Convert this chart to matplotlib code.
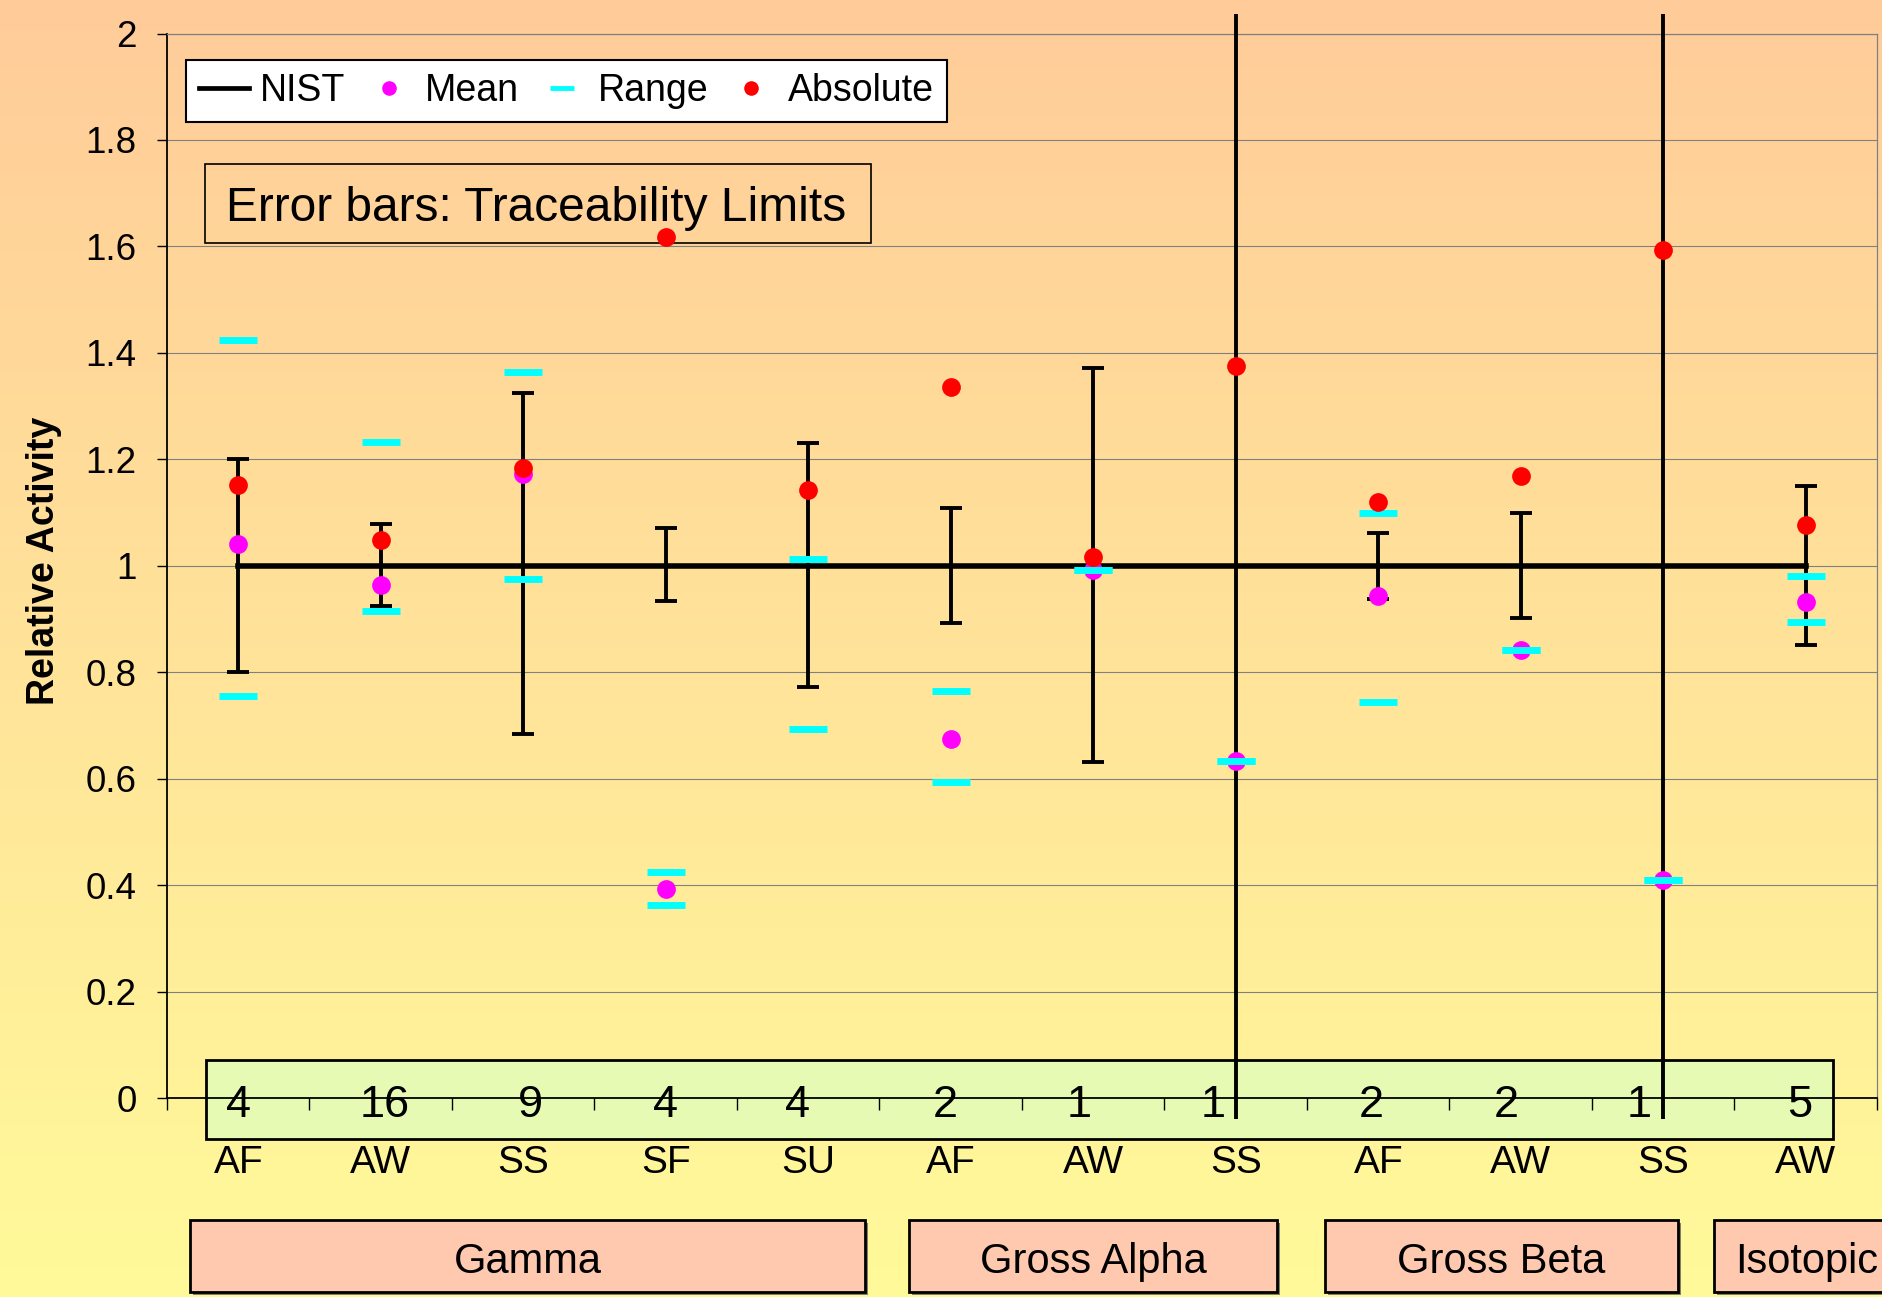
import numpy as np
import matplotlib
matplotlib.use("Agg")
import matplotlib.pyplot as plt
from matplotlib.patches import Rectangle
from matplotlib.lines import Line2D
from matplotlib.transforms import offset_copy

plt.rcParams['font.family'] = ['Liberation Sans', 'DejaVu Sans']

# data
categories = ['AF', 'AW', 'SS', 'SF', 'SU', 'AF', 'AW', 'SS', 'AF', 'AW', 'SS', 'AW']
counts = [4, 16, 9, 4, 4, 2, 1, 1, 2, 2, 1, 5]
groups = ['Gamma', 'Gross Alpha', 'Gross Beta', 'Isotopic']

nist = np.ones(12)
limit_low = np.array([0.80, 0.925, 0.683, 0.933, 0.773, 0.893, 0.631, -1.0, 0.937, 0.902, -1.0, 0.852])
limit_high = np.array([1.20, 1.078, 1.324, 1.071, 1.231, 1.109, 1.371, 3.0, 1.062, 1.100, 3.0, 1.150])
mean = [1.04, 0.963, 1.172, 0.392, np.nan, 0.674, 0.992, 0.634, 0.944, 0.841, 0.410, 0.931]
absolute = [1.152, 1.048, 1.184, 1.617, 1.143, 1.335, 1.017, 1.375, 1.120, 1.168, 1.594, 1.076]
range_hi = [1.425, 1.233, 1.364, 0.424, 1.012, 0.764, 0.992, 0.634, 1.099, 0.841, 0.410, 0.981]
range_lo = [0.755, 0.915, 0.976, 0.363, 0.694, 0.593, 0.992, 0.634, 0.744, 0.841, 0.410, 0.895]

# layout (pixels)
W, H = 1883, 1297
count_dx = [0, 4, 7, 0, -11, -5, -14, -23, -7, -14, -24, -6]
group_boxes = [(190, 675), (909, 368), (1325, 353), (1714, 186)]

fig = plt.figure(figsize=(W / 100, H / 100), dpi=100)

# background gradient + boxes drawn in pixel space
bg = fig.add_axes([0, 0, 1, 1], zorder=0)
bg.set_xlim(0, W)
bg.set_ylim(H, 0)
bg.axis('off')
top = np.array([255, 204, 153]) / 255
bot = np.array([255, 250, 153]) / 255
g = np.linspace(0, 1, 256)[:, None, None]
bg.imshow(top * (1 - g) + bot * g, extent=[0, W, H, 0], aspect='auto')

bg.add_patch(Rectangle((206, 1060), 1833 - 206, 79, fc='#E6FAB4', ec='black', lw=2))
bg.add_patch(Rectangle((205, 164), 666, 79, fc='none', ec='black', lw=1.2))
bg.text(536, 221, 'Error bars: Traceability Limits', fontsize=34.5, ha='center', va='baseline')
for (x0, w), name in zip(group_boxes, groups):
    bg.add_patch(Rectangle((x0 + 3, 1223), w, 72, fc='#7f7f6a', ec='none'))
    bg.add_patch(Rectangle((x0, 1220), w, 72, fc='#FFC9B0', ec='black', lw=2))
    bg.text(x0 + w / 2, 1273, name, fontsize=30, ha='center', va='baseline')

# main chart
ax = fig.add_axes([167 / W, 1 - 1098 / H, (1877 - 167) / W, (1098 - 33.5) / H], zorder=2)
ax.set_facecolor('none')
x = np.arange(12) + 0.5

eb = ax.errorbar(x, nist, yerr=[nist - limit_low, limit_high - nist], color='black',
                 lw=4, elinewidth=2.8, capsize=8, capthick=2.8, zorder=3)
clip = Rectangle((0, -0.04), 12, 2.076, transform=ax.transData)
for art in list(eb.lines[1]) + list(eb.lines[2]):
    art.set_clip_path(clip)

ax.plot(x, mean, 'o', color='#FF00FF', ms=13.5, mec='none', zorder=4)
ax.plot(x, range_hi, '_', color='#00FFFF', ms=27, mew=5, zorder=5)
ax.plot(x, range_lo, '_', color='#00FFFF', ms=27, mew=5, zorder=5)
ax.plot(x, absolute, 'o', color='#FF0000', ms=13.5, mec='none', zorder=6)

ax.set_xlim(0, 12)
ax.set_ylim(0, 2)
ax.set_yticks(np.arange(0, 2.01, 0.2))
ax.set_yticklabels(['%g' % round(v, 1) for v in np.arange(0, 2.01, 0.2)])
ax.set_xticks([])
ax.set_xticks(np.arange(13), minor=True)
ax.tick_params(axis='y', length=7, width=1, labelsize=26.5, pad=15, direction='out')
ax.tick_params(axis='x', which='minor', length=8.6, width=1, direction='out')
ax.yaxis.grid(True, color='#808080', lw=0.8)
ax.set_axisbelow(True)
for side in ['left', 'bottom']:
    ax.spines[side].set_color('black')
    ax.spines[side].set_linewidth(1.3)
for side in ['top', 'right']:
    ax.spines[side].set_color('#808080')
    ax.spines[side].set_linewidth(0.9)

for i in range(12):
    ax.text(x[i], 0, str(counts[i]), fontsize=32.5, ha='center', va='baseline', clip_on=False,
            transform=offset_copy(ax.transData, fig, x=count_dx[i], y=-19, units='dots'), zorder=7)
    ax.text(x[i], 0, categories[i], fontsize=28, ha='center', va='baseline', clip_on=False,
            transform=offset_copy(ax.transData, fig, x=0, y=-75, units='dots'))

fig.text(44 / W, 1 - 561 / H, 'Relative Activity', rotation=90, fontsize=27,
         fontweight='bold', ha='center', va='center')

handles = [Line2D([], [], color='black', lw=3.4),
           Line2D([], [], ls='none', marker='o', color='#FF00FF', ms=10.5, mec='none'),
           Line2D([], [], ls='none', marker='_', color='#00FFFF', ms=17, mew=3.5),
           Line2D([], [], ls='none', marker='o', color='#FF0000', ms=10.5, mec='none')]
leg = fig.legend(handles, ['NIST', 'Mean', 'Range', 'Absolute'], loc='upper left',
                 bbox_to_anchor=(186 / W, 1 - 60 / H), ncol=4, frameon=True, fancybox=False,
                 edgecolor='black', framealpha=1, fontsize=27, handlelength=1.33,
                 handletextpad=0.3, columnspacing=0.48, borderpad=0.35, borderaxespad=0)
leg.get_frame().set_linewidth(1.5)

fig.savefig('out.png', dpi=100)
